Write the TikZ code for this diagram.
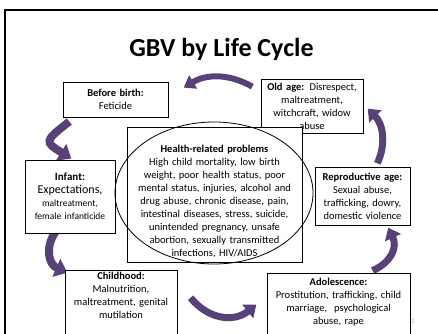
\documentclass[tikz,border=0pt]{standalone}
\usepackage{fontspec}
\setmainfont{Carlito}
\usepackage{tikz}
\usetikzlibrary{arrows.meta,shapes.geometric}
\definecolor{lifepurple}{RGB}{88,64,120}
\pgfdeclarelayer{edgelayer}
\pgfdeclarelayer{nodelayer}
\pgfsetlayers{edgelayer,nodelayer,main}
\tikzstyle{none}=[inner sep=0pt]
\tikzstyle{heading}=[anchor=base,inner sep=0pt,font=\fontsize{26}{30}\selectfont\bfseries]
\tikzstyle{stage}=[rectangle,draw=black,line width=0.9pt,fill=white,align=center,inner xsep=3pt,inner ysep=2pt,font=\fontsize{10.5}{13}\selectfont]
\tikzstyle{problems}=[ellipse,draw=black,line width=0.8pt,minimum width=198pt,minimum height=142pt]
\tikzstyle{slidenum}=[inner sep=0pt,text=black!30,font=\fontsize{7}{8}\selectfont]
\tikzstyle{lifearrow}=[draw=lifepurple,line width=7pt,-{Triangle[width=17pt,length=11pt]}]

\begin{document}
\begin{tikzpicture}[x=1pt,y=-1pt]
	\useasboundingbox (0,0) rectangle (438,333);
	\begin{pgfonlayer}{nodelayer}
		\node [style=heading] (T) at (221.5,56) {GBV by Life Cycle};
		\node [style=stage, text width=99pt, minimum height=35pt] (before) at (115.5,99.5) {\textbf{Before birth:}\\Feticide};
		\node [style=stage, text width=96pt, minimum height=54pt] (old) at (312,106) {\textbf{Old age:} Disrespect,\\maltreatment,\\witchcraft, widow\\abuse};
		\node [style=stage, text width=84pt, minimum height=73pt] (infant) at (70,196.5) {{\fontsize{11}{13}\selectfont\textbf{Infant:}}\\{\fontsize{12}{13}\selectfont Expectations,}\\{\fontsize{9.5}{13}\selectfont maltreatment,}\\{\fontsize{9.5}{13}\selectfont female infanticide}};
		\node [style=stage, text width=89pt, minimum height=58pt] (repro) at (362.5,196) {\textbf{Reproductive age:}\\Sexual abuse,\\trafficking, dowry,\\domestic violence};
		\node [style=stage, text width=106pt, anchor=north] (child) at (121,270) {\textbf{Childhood:}\\Malnutrition,\\maltreatment, genital\\mutilation\rule[-30pt]{0pt}{0pt}};
		\node [style=stage, text width=137pt, anchor=north, inner ysep=5pt] (adol) at (338.5,273) {\textbf{Adolescence:}\\Prostitution, trafficking, child\\marriage,\ \ psychological\\abuse, rape\rule[-30pt]{0pt}{0pt}};
		\node [style=stage, minimum width=175pt, minimum height=135pt] (health) at (214.5,194.5) {};
		\node [style=problems] (ring) at (214,193) {};
		\node [style=none, text width=170pt, align=center, font=\fontsize{10.5}{13.1}\selectfont] (healthtext) at (214.5,201.5) {\textbf{Health-related problems}\\High child mortality, low birth\\weight, poor health status, poor\\mental status, injuries, alcohol and\\drug abuse, chronic disease, pain,\\intestinal diseases, stress, suicide,\\unintended pregnancy, unsafe\\abortion, sexually transmitted\\infections, HIV/AIDS};
		\node [style=slidenum] (num) at (413,321) {1};
		% ends of the cycle arrows
		\node [style=none] (oldTail) at (253,87) {};
		\node [style=none] (beforeTip) at (183,88) {};
		\node [style=none] (beforeTail) at (70,121) {};
		\node [style=none] (infantTip) at (72,159) {};
		\node [style=none] (infantTail) at (56,231) {};
		\node [style=none] (childTip) at (68,273) {};
		\node [style=none] (childTail) at (190,297) {};
		\node [style=none] (adolTip) at (257,304) {};
		\node [style=none] (adolTail) at (372,271) {};
		\node [style=none] (reproTip) at (388,227) {};
		\node [style=none] (reproTail) at (377,164) {};
		\node [style=none] (oldTip) at (367,108) {};
	\end{pgfonlayer}
	\begin{pgfonlayer}{edgelayer}
		\draw [line width=1.5pt] (5,10) rectangle (460,360);
		\draw [style=lifearrow, line width=6pt, -{Triangle[width=15pt,length=11pt]}, bend right=30] (oldTail) to (beforeTip);
		\draw [style=lifearrow, line width=8pt, -{Triangle[width=19pt,length=12pt]}, bend right=55, looseness=2.2] (beforeTail) to (infantTip);
		\draw [style=lifearrow, line width=8pt, -{Triangle[width=19pt,length=12pt]}, bend right=50, looseness=1.2] (infantTail) to (childTip);
		\draw [style=lifearrow, bend right=45, looseness=1.1] (childTail) to (adolTip);
		\draw [style=lifearrow, bend right=45, looseness=1.2] (adolTail) to (reproTip);
		\draw [style=lifearrow, bend right=35] (reproTail) to (oldTip);
	\end{pgfonlayer}
\end{tikzpicture}
\end{document}
